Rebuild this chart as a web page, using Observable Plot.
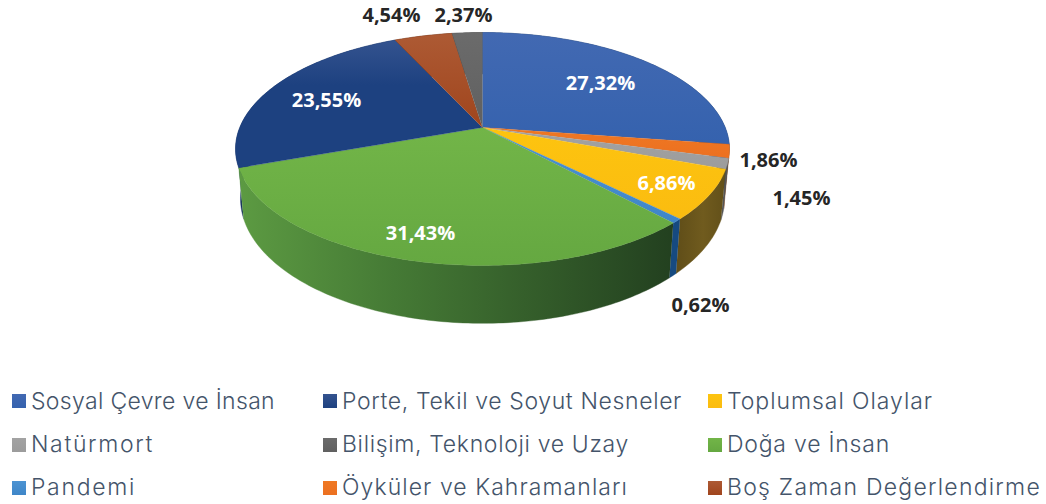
<!DOCTYPE html>
<html lang="tr">
<head>
<meta charset="utf-8">
<script src="https://cdn.jsdelivr.net/npm/d3@7"></script>
<script src="https://cdn.jsdelivr.net/npm/@observablehq/plot@0.6"></script>
<style>
html,body{margin:0;padding:0;background:#fff;}
#chart svg{display:block;}
#legend{display:grid;grid-template-columns:311px 385px 1fr;grid-auto-rows:43.4px;padding-left:12px;
  font-family:Inter,sans-serif;font-weight:300;font-size:23px;color:#44546a;}
.item{display:flex;align-items:center;white-space:nowrap;}
.sw{width:14px;height:14px;margin-right:5px;margin-top:1px;flex:none;}
</style>
</head>
<body>
<div id="chart"></div>
<div id="legend"></div>
<script>
// Slices, clockwise from the top of the pie
const categories = ["Sosyal Çevre ve İnsan","Öyküler ve Kahramanları","Natürmort","Toplumsal Olaylar","Pandemi","Doğa ve İnsan","Porte, Tekil ve Soyut Nesneler","Boş Zaman Değerlendirme","Bilişim, Teknoloji ve Uzay"];
const shares = [27.32,1.86,1.45,6.86,0.62,31.43,23.55,4.54,2.37];
const shareLabels = ["27,32%","1,86%","1,45%","6,86%","0,62%","31,43%","23,55%","4,54%","2,37%"];
const legendOrder = ["Sosyal Çevre ve İnsan","Porte, Tekil ve Soyut Nesneler","Toplumsal Olaylar","Natürmort","Bilişim, Teknoloji ve Uzay","Doğa ve İnsan","Pandemi","Öyküler ve Kahramanları","Boş Zaman Değerlendirme"];
// Text widths in the legend, same order as legendOrder
const legendWidths = [244,340,206,123,287,163,105,286,314];

// Styles, same order as the slices
const faceTop = ["#4269b2","#ef7823","#a3a3a3","#fdc40f","#4c93d2","#72b548","#34538f","#ad5a34","#6b6b6b"];
const faceBottom = ["#3562ae","#ec7020","#9c9c9c","#fbbc10","#3f86c8","#65a841","#1d4180","#a0451d","#606060"];
const sideLeft = ["#203a66","#7a3c10","#555555","#705b1e","#164a80","#5c9a42","#14305f","#5c2a10","#3c3c3c"];
const sideRight = ["#203a66","#7a3c10","#555555","#5f4d18","#164a80","#223f1f","#14305f","#5c2a10","#3c3c3c"];
const textColors = ["#fff","#262626","#262626","#fff","#262626","#fff","#fff","#262626","#262626"];

// Label centres, in page pixels
const labelX = [600,768,801,666,700,420,326,391,463];
const labelY = [83,160,198,183,305,233,100,15,15];

// Pie geometry
const cx = 482, cy = 148.4, rx = 247, ry = 116.7;
const persp = 0.1845, squeeze = 0.9827, apex = -0.1834;
const bottomShift = 0.425, bottomX = 0.98, bottomY = 1.071;

const project = deg => {
  const a = deg * Math.PI / 180, u = Math.sin(a), v = -Math.cos(a), w = 1 - persp * v;
  return {x: squeeze * u / w, y: (0.998 * v + apex) / w};
};
const drop = p => ({x: p.x * bottomX, y: bottomShift + p.y * bottomY});
const arc = (a0, a1) => {
  const n = Math.max(2, Math.ceil((a1 - a0) / 1));
  return d3.range(n + 1).map(i => project(a0 + (a1 - a0) * i / n));
};

const ends = d3.cumsum(shares);
const slices = shares.map((s, i) => {
  const a1 = ends[i] * 3.6, a0 = a1 - s * 3.6;
  return {i, a0, a1, pts: arc(a0, a1)};
});
// Sides are painted back to front
const backToFront = [...slices].sort((p, q) =>
  -Math.cos((p.a0 + p.a1) * Math.PI / 360) - -Math.cos((q.a0 + q.a1) * Math.PI / 360));

const defs = () => {
  const g = d3.create("svg:defs");
  slices.forEach(({i}) => {
    const top = g.append("linearGradient").attr("id", "top" + i).attr("x1", 0).attr("y1", 0).attr("x2", 0).attr("y2", 1);
    top.append("stop").attr("offset", 0).attr("stop-color", faceTop[i]);
    top.append("stop").attr("offset", i === 6 ? .35 : 1).attr("stop-color", faceBottom[i]);
    const side = g.append("linearGradient").attr("id", "side" + i).attr("gradientUnits", "userSpaceOnUse")
      .attr("x1", 240).attr("y1", 0).attr("x2", 730).attr("y2", 0);
    if (i === 3) {
      side.attr("x1", 675);
      side.append("stop").attr("offset", 0).attr("stop-color", sideRight[i]);
      side.append("stop").attr("offset", .5).attr("stop-color", sideLeft[i]);
      side.append("stop").attr("offset", 1).attr("stop-color", sideRight[i]);
    } else if (i === 5) {
      side.attr("x2", 678);
      side.append("stop").attr("offset", 0).attr("stop-color", sideLeft[i]);
      side.append("stop").attr("offset", .35).attr("stop-color", "#457a35");
      side.append("stop").attr("offset", 1).attr("stop-color", sideRight[i]);
    } else {
      side.append("stop").attr("offset", 0).attr("stop-color", sideLeft[i]);
      side.append("stop").attr("offset", 1).attr("stop-color", sideRight[i]);
    }
  });
  return g.node();
};

const labels = shareLabels.map((t, i) => ({
  t, x: (labelX[i] - cx) / rx, y: (labelY[i] - cy) / ry, c: textColors[i]
}));

const plot = Plot.plot({
  width: 1046, height: 379,
  margin: 0,
  x: {type: "linear", domain: [-1, 1], range: [cx - rx, cx + rx], axis: null},
  y: {type: "linear", domain: [-1, 1], range: [cy - ry, cy + ry], axis: null},
  style: {background: "#fff"},
  marks: [
    defs,
    ...backToFront.map(({i, pts}) => Plot.line(
      [...pts, ...pts.map(drop).reverse()],
      {x: "x", y: "y", fill: `url(#side${i})`, stroke: `url(#side${i})`, strokeWidth: .4}
    )),
    ...slices.map(({i, pts}) => Plot.line(
      [{x: 0, y: apex}, ...pts],
      {x: "x", y: "y", fill: `url(#top${i})`, stroke: faceBottom[i], strokeWidth: .3}
    )),
    Plot.text(labels, {
      x: "x", y: "y", text: "t", fill: "c",
      fontFamily: "'Open Sans',sans-serif", fontWeight: 700, fontSize: 20
    })
  ]
});
document.getElementById("chart").append(plot);

const legend = d3.select("#legend");
legendOrder.forEach((name, k) => {
  const i = categories.indexOf(name);
  const item = legend.append("div").attr("class", "item");
  item.append("span").attr("class", "sw").style("background", `linear-gradient(${faceTop[i]},${faceBottom[i]})`);
  const label = item.append("span").text(name);
  const measured = label.node().getBoundingClientRect().width;
  label.style("letter-spacing", `${(legendWidths[k] - measured) / name.length}px`);
});
</script>
</body>
</html>
